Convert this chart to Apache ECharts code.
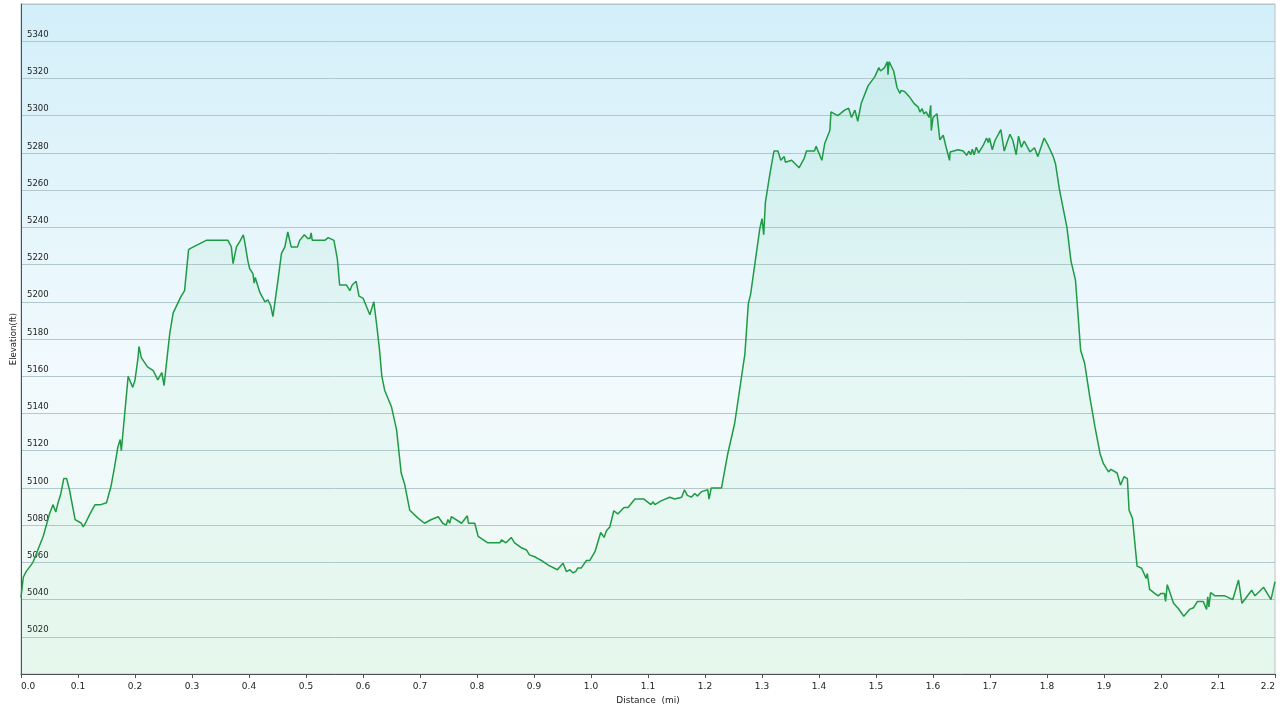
<!DOCTYPE html>
<html>
<head>
<meta charset="utf-8">
<script src="https://cdn.jsdelivr.net/npm/echarts@6/dist/echarts.min.js"></script>
<style>
html,body{margin:0;padding:0;background:#fff;}
#chart{width:1280px;height:711px;}
</style>
</head>
<body>
<div id="chart"></div>
<script>
// Distance (mi)
var distance = [
0.000,0.004,0.009,0.021,0.030,0.039,0.050,0.056,0.061,0.065,0.070,0.075,0.080,0.085,0.095,0.106,0.109,0.113,0.121,0.130,
0.140,0.150,0.158,0.164,0.170,0.174,0.176,0.179,0.188,0.196,0.200,0.205,0.207,0.211,0.222,0.232,0.240,0.247,0.251,0.257,
0.261,0.267,0.281,0.287,0.294,0.299,0.325,0.363,0.369,0.372,0.378,0.385,0.390,0.392,0.398,0.401,0.407,0.409,0.411,0.419,
0.428,0.433,0.438,0.442,0.445,0.451,0.457,0.463,0.468,0.474,0.485,0.489,0.497,0.503,0.507,0.509,0.511,0.533,0.539,0.549,
0.555,0.559,0.571,0.577,0.581,0.588,0.593,0.600,0.612,0.619,0.625,0.629,0.633,0.638,0.650,0.659,0.667,0.673,0.682,0.697,
0.708,0.720,0.732,0.740,0.746,0.749,0.752,0.755,0.773,0.783,0.785,0.796,0.802,0.819,0.840,0.843,0.851,0.860,0.866,0.877,
0.887,0.892,0.901,0.907,0.913,0.925,0.941,0.951,0.957,0.963,0.968,0.973,0.977,0.983,0.992,0.998,1.007,1.017,1.023,1.027,
1.033,1.040,1.047,1.058,1.065,1.077,1.093,1.105,1.109,1.112,1.123,1.138,1.147,1.159,1.164,1.169,1.176,1.182,1.187,1.194,
1.205,1.207,1.211,1.229,1.240,1.252,1.270,1.276,1.280,1.296,1.300,1.303,1.306,1.314,1.321,1.328,1.333,1.339,1.341,1.352,
1.365,1.374,1.378,1.392,1.395,1.405,1.410,1.419,1.421,1.433,1.445,1.452,1.457,1.463,1.468,1.474,1.486,1.498,1.505,1.508,
1.515,1.520,1.521,1.523,1.531,1.537,1.542,1.544,1.550,1.559,1.567,1.574,1.577,1.581,1.584,1.588,1.593,1.596,1.597,1.600,
1.603,1.607,1.612,1.618,1.623,1.629,1.630,1.644,1.653,1.659,1.663,1.666,1.669,1.672,1.676,1.680,1.688,1.694,1.697,1.699,
1.704,1.709,1.719,1.725,1.730,1.735,1.740,1.746,1.750,1.755,1.760,1.770,1.778,1.784,1.795,1.802,1.805,1.811,1.815,1.822,
1.825,1.835,1.842,1.850,1.859,1.866,1.868,1.875,1.884,1.893,1.899,1.908,1.912,1.923,1.929,1.935,1.941,1.944,1.950,1.958,
1.966,1.974,1.976,1.980,1.989,1.995,2.000,2.006,2.008,2.011,2.022,2.030,2.040,2.050,2.057,2.064,2.074,2.080,2.082,2.084,
2.087,2.095,2.112,2.126,2.136,2.142,2.159,2.165,2.180,2.193,2.200
];
// Elevation (ft)
var elevation = [
5041,5052,5055,5060,5067,5074,5086,5091,5087,5092,5097,5105,5105,5099,5083,5081,5079,5081,5086,5091,
5091,5092,5101,5111,5122,5126,5120,5130,5160,5154,5158,5169,5176,5170,5165,5163,5158,5162,5155,5172,
5183,5194,5203,5206,5228,5229,5233,5233,5229.5,5220.5,5229.5,5233,5236,5233,5222,5218,5215,5210,5213,5205,
5200,5201,5198,5192,5193,5212,5226,5229.5,5237.5,5229.5,5229.5,5233,5236,5234,5234,5237,5233,5233,5234.5,5233,
5223,5209,5209,5206,5209,5211,5203,5202,5193,5200,5185,5174,5160,5152.5,5143.5,5131,5108,5102,5088,5083.6,
5081,5083,5084.5,5081,5080,5083,5081,5084.5,5081,5085,5081,5081,5074,5070.5,5070.5,5072,5070.5,5073.4,5070.5,5068,
5066.6,5064,5063,5062,5061,5058.5,5056,5059.5,5055,5056,5054.4,5055,5057,5057,5061,5061,5065.7,5076,5073.4,5077,
5079,5087.7,5086,5089.5,5089.5,5094,5094,5091,5092.5,5091,5093,5095,5094,5095,5099,5096,5095,5097,5095.6,5098,
5099,5094,5100,5100,5118.5,5134.6,5172,5199,5204,5239,5244.7,5236,5253.6,5269,5281,5281,5276,5278,5275,5276,
5272,5277,5281,5281,5283.5,5276,5285,5292,5302,5300,5303,5304,5299,5303,5297,5306.5,5316,5321,5325.8,5324,
5325.8,5329,5322,5329,5324,5315,5312,5313.6,5313,5310,5306.5,5304.6,5302,5303.7,5301,5302,5299,5305.6,5292,5299,
5300,5301,5287,5289.5,5283,5276,5280.5,5281.7,5281,5278.7,5281,5279,5282,5279,5283,5280,5284,5288,5285.6,5288,
5281.7,5286.8,5292.5,5281,5285.7,5290,5286.8,5279,5289,5283,5286.4,5280.5,5282.8,5278,5288,5284,5285,5278,5274,5260,
5259,5240,5222,5211.6,5174,5167,5166,5149,5133,5118.5,5113,5108.6,5110,5108,5101.5,5106,5105,5088,5083.6,5058,
5056.8,5051.4,5054,5045.5,5043.3,5042,5043.3,5043.3,5039,5048,5038,5035.3,5031,5034.7,5035.6,5039,5039,5034.7,5041.5,5036,
5043.7,5042,5042,5040,5050.5,5038,5045,5042,5046.6,5040,5049.6
];
var yTickLabels = [5020,5040,5060,5080,5100,5120,5140,5160,5180,5200,5220,5240,5260,5280,5300,5320,5340];
var xTickLabels = ['0.0','0.1','0.2','0.3','0.4','0.5','0.6','0.7','0.8','0.9','1.0','1.1','1.2','1.3','1.4','1.5','1.6','1.7','1.8','1.9','2.0','2.1','2.2'];

var points = distance.map(function(d, i){ return [d, elevation[i]]; });
var chart = echarts.init(document.getElementById('chart'), null, {renderer:'canvas'});
var FONT = 'DejaVu Sans';
chart.setOption({
  animation:false,
  backgroundColor:'#ffffff',
  grid:{
    left:21, right:5, top:4, bottom:37,
    containLabel:false,
    outerBoundsMode:'none',
    show:true,
    borderColor:'#b8c2c6', borderWidth:1,
    backgroundColor:new echarts.graphic.LinearGradient(0,0,0,1,[
      {offset:0, color:'#d3eff9'},
      {offset:0.55, color:'#f2fafd'},
      {offset:1, color:'#ecf9f1'}
    ])
  },
  xAxis:{
    type:'value', min:0, max:2.2, interval:0.1,
    name:'Distance  (mi)', nameLocation:'middle', nameGap:22,
    nameTextStyle:{fontFamily:FONT, fontSize:9, color:'#222'},
    axisLine:{show:true, lineStyle:{color:'#505050', width:1}},
    axisTick:{show:true, length:4, lineStyle:{color:'#505050'}},
    axisLabel:{fontFamily:FONT, fontSize:9, color:'#222', margin:8,
      alignMinLabel:'left', alignMaxLabel:'right',
      formatter:function(v){ var s = v.toFixed(1); return xTickLabels.indexOf(s) >= 0 ? s : ''; }},
    splitLine:{show:false}
  },
  yAxis:{
    type:'value', min:5000, max:5360, interval:20,
    name:'Elevation(ft)', nameLocation:'middle', nameGap:3, nameRotate:90,
    nameMoveOverlap:false,
    nameTextStyle:{fontFamily:FONT, fontSize:8.5, color:'#222', verticalAlign:'bottom'},
    axisLine:{show:true, lineStyle:{color:'#505050', width:1}},
    axisTick:{show:false},
    axisLabel:{inside:true, fontFamily:FONT, fontSize:8.5, color:'#222', margin:6,
      verticalAlign:'bottom', padding:[0,0,2,0],
      formatter:function(v){ return yTickLabels.indexOf(v) >= 0 ? String(v) : ''; }},
    splitLine:{show:true, lineStyle:{color:'#b3c8cd', width:1}}
  },
  series:[{
    type:'line',
    data:points,
    showSymbol:false,
    lineStyle:{color:'#1f9a45', width:1.5},
    areaStyle:{color:new echarts.graphic.LinearGradient(0,0,0,1,[
      {offset:0, color:'rgba(90,210,140,0.16)'},
      {offset:1, color:'rgba(90,210,140,0.06)'}
    ]), origin:'start'}
  }]
});
</script>
</body>
</html>
